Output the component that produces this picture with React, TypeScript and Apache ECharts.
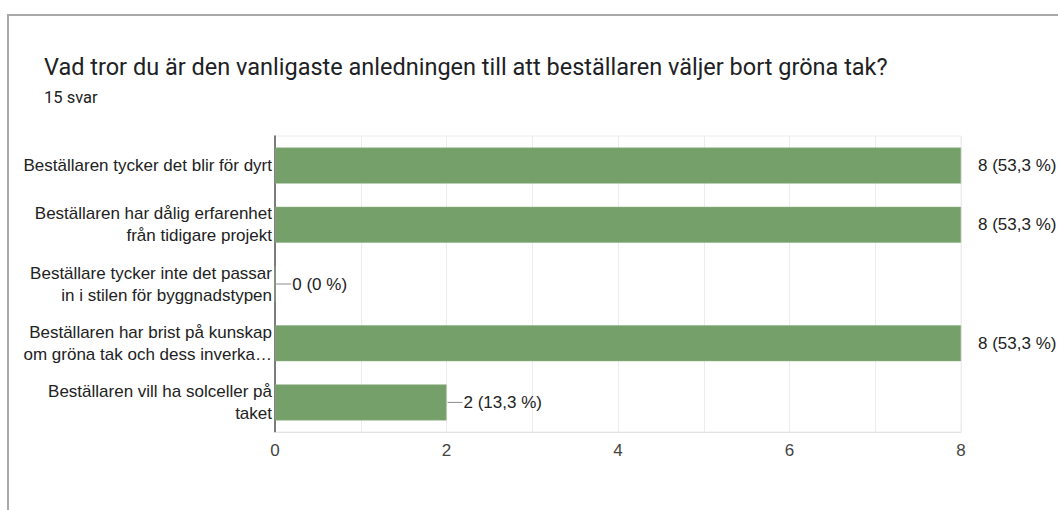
import React, { useEffect, useRef } from "react";
import * as echarts from "echarts";

const title = "Vad tror du är den vanligaste anledningen till att beställaren väljer bort gröna tak?";
const subtitle = "15 svar";
const totalResponses = 15;
const categories = [
  "Beställaren tycker det blir för dyrt",
  "Beställaren har dålig erfarenhet\nfrån tidigare projekt",
  "Beställare tycker inte det passar\nin i stilen för byggnadstypen",
  "Beställaren har brist på kunskap\nom gröna tak och dess inverka…",
  "Beställaren vill ha solceller på\ntaket",
];
const values = [8, 8, 0, 8, 2];
const xTicks = [0, 2, 4, 6, 8];

const fmtPct = (v: number) => {
  if (v === 0) return "0";
  return ((v / totalResponses) * 100).toFixed(1).replace(".", ",");
};

const FONT = "Liberation Sans, Arial, Helvetica, sans-serif";

export default function App() {
  const ref = useRef<HTMLDivElement>(null);
  useEffect(() => {
    document.body.style.margin = "0";
    if (!ref.current) return;
    const chart = echarts.init(ref.current, null, { renderer: "svg" });
    const maxV = xTicks[xTicks.length - 1];
    const data = values.map((v) => {
      const text = `${v} (${fmtPct(v)} %)`;
      const hasLine = v < maxV;
      return {
        value: v,
        label: {
          distance: hasLine ? 1 : 16,
          formatter: hasLine ? `{ln|}{t|${text}}` : `{t|${text}}`,
        },
      };
    });
    chart.setOption({
      animation: false,
      backgroundColor: "#fff",
      textStyle: { fontFamily: FONT },
      graphic: [
        {
          type: "rect",
          shape: { x: 8, y: 15, width: 1200, height: 700 },
          style: { fill: "none", stroke: "#a9a9a9", lineWidth: 2 },
          silent: true,
        },
        {
          type: "text",
          left: 44,
          top: 55,
          style: {
            text: title,
            font: "23.5px Roboto, Arial, sans-serif",
            fill: "#202124",
          },
        },
        {
          type: "text",
          left: 44,
          top: 89,
          style: {
            text: subtitle,
            font: "16.5px Roboto, Arial, sans-serif",
            fill: "#202124",
          },
        },
      ],
      grid: {
        left: 275,
        right: 97,
        top: 136,
        bottom: 78,
        show: true,
        borderColor: "#ececec",
        borderWidth: 1,
      },
      xAxis: {
        type: "value",
        min: 0,
        max: maxV,
        interval: 1,
        axisLine: { show: true, lineStyle: { color: "#e3e3e3", width: 1 } },
        axisTick: { show: false },
        splitLine: { show: true, lineStyle: { color: "#ececec", width: 1 } },
        axisLabel: {
          margin: 10,
          fontSize: 17,
          color: "#444",
          fontFamily: FONT,
          formatter: (v: number) => (xTicks.includes(v) ? String(v) : ""),
        },
      },
      yAxis: {
        type: "category",
        data: categories,
        inverse: true,
        axisLine: { show: true, lineStyle: { color: "#555", width: 1.5 } },
        axisTick: { show: false },
        splitLine: { show: false },
        axisLabel: {
          margin: 3,
          fontSize: 17,
          lineHeight: 22,
          color: "#222",
          align: "right",
          fontFamily: FONT,
        },
      },
      series: [
        {
          type: "bar",
          data,
          barWidth: 36,
          itemStyle: { color: "#76a069", borderColor: "#8db080", borderWidth: 0.5 },
          label: {
            show: true,
            position: "right",
            color: "#222",
            fontSize: 17,
            fontFamily: FONT,
            rich: {
              ln: {
                width: 15,
                height: 1,
                backgroundColor: "#8a8a8a",
                verticalAlign: "middle",
              },
              t: {
                fontSize: 17,
                color: "#222",
                padding: [0, 0, 0, 1],
                fontFamily: FONT,
              },
            },
          },
        },
      ],
    });
    return () => chart.dispose();
  }, []);
  return <div ref={ref} style={{ width: 1058, height: 510 }} />;
}
